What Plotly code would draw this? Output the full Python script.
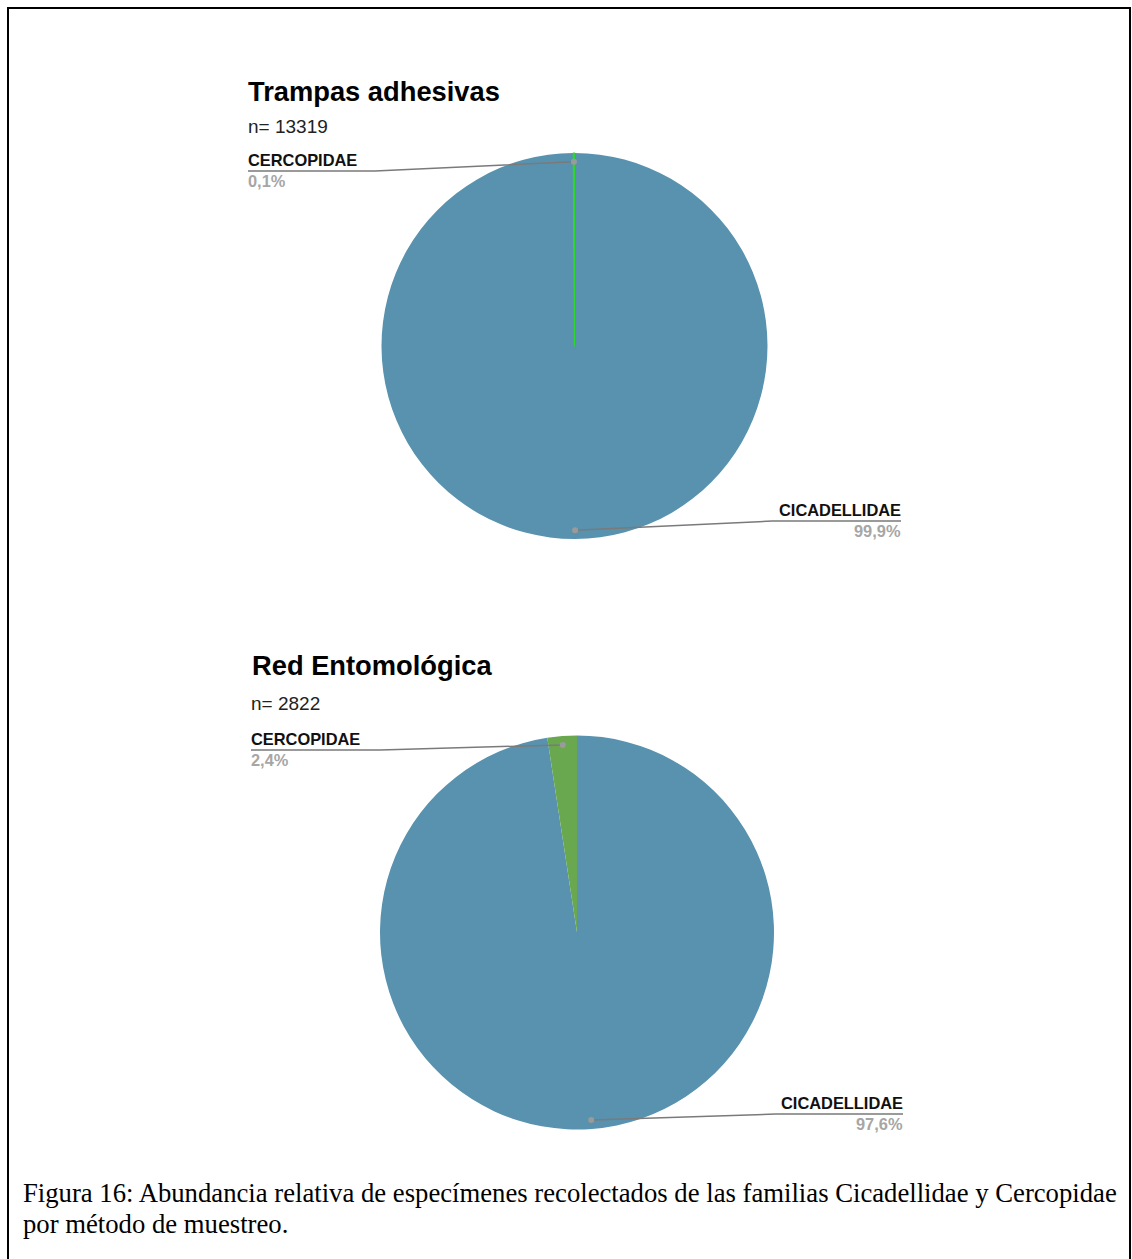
import plotly.graph_objects as go
import math

# ---------------- data ----------------
families = ["CICADELLIDAE", "CERCOPIDAE"]
trampas_values = [13306, 13]      # n = 13319
red_values = [2754, 68]           # n = 2822
chart_titles = ["Trampas adhesivas", "Red Entomológica"]
caption_lines = [
    "Figura 16: Abundancia relativa de especímenes recolectados de las familias Cicadellidae y Cercopidae",
    "por método de muestreo.",
]

# ---------------- styling / layout (pixels) ----------------
W, H = 1132, 1259
BLUE = "#5892ae"
GREENS = ["#2ed62e", "#6aa84f"]
GREEN_EDGE = [1.2, 0]
LABEL_FONT = "Liberation Sans, Arial, sans-serif"

pies = [
    dict(values=trampas_values, title=chart_titles[0], cx=574.5, cy=346, r=193,
         title_xy=(246, 91), n_xy=(246, 126),
         left_xy=(248, 171), left_knee=375, right_xy=(901, 521), right_knee=772,
         green=GREENS[0], edge=GREEN_EDGE[0]),
    dict(values=red_values, title=chart_titles[1], cx=577, cy=932.5, r=197,
         title_xy=(250, 665), n_xy=(249, 703),
         left_xy=(251, 750), left_knee=380, right_xy=(903, 1114), right_knee=776,
         green=GREENS[1], edge=GREEN_EDGE[1]),
]

fig = go.Figure()
shapes = []
annotations = []

def pct(v, tot):
    return f"{100 * v / tot:.1f}".replace(".", ",") + "%"

for p in pies:
    vals = p["values"]
    tot = sum(vals)
    cx, cy, r = p["cx"], p["cy"], p["r"]
    fig.add_trace(go.Pie(
        labels=families, values=vals, sort=False, direction="clockwise", rotation=0,
        marker=dict(colors=[BLUE, p["green"]],
                    line=dict(color=[BLUE, p["green"]], width=[0, p["edge"]])),
        textinfo="none", hoverinfo="label+percent", showlegend=False,
        domain=dict(x=[(cx - r) / W, (cx + r) / W], y=[1 - (cy + r) / H, 1 - (cy - r) / H]),
    ))
    annotations.append(dict(x=p["title_xy"][0], y=p["title_xy"][1], xref="x", yref="y",
                            text=f"<b>{p['title']}</b>", showarrow=False, xanchor="left",
                            yanchor="middle", font=dict(family=LABEL_FONT, size=27.3, color="#000")))
    annotations.append(dict(x=p["n_xy"][0], y=p["n_xy"][1], xref="x", yref="y",
                            text=f"n= {tot}", showarrow=False, xanchor="left",
                            yanchor="middle", font=dict(family=LABEL_FONT, size=19, color="#222")))
    cum = 0
    for i, v in enumerate(vals):
        mid = (cum + v / 2) / tot * 2 * math.pi
        cum += v
        dx = cx + 0.955 * r * math.sin(mid)
        dy = cy - 0.955 * r * math.cos(mid)
        if i == 1:
            lx, ly = p["left_xy"]
            knee = p["left_knee"]
            anchor, tx = "left", lx - 2
        else:
            lx, ly = p["right_xy"]
            knee = p["right_knee"]
            anchor, tx = "right", lx + 2
        shapes.append(dict(type="path", xref="x", yref="y",
                           path=f"M {lx} {ly} L {knee} {ly} L {dx:.2f} {dy:.2f}",
                           line=dict(color="#7a7a7a", width=1.5)))
        shapes.append(dict(type="circle", xref="x", yref="y",
                           x0=dx - 3, x1=dx + 3, y0=dy - 3, y1=dy + 3,
                           fillcolor="#9a9a9a", line=dict(width=0)))
        annotations.append(dict(x=tx, y=ly - 11, xref="x", yref="y",
                                text=f"<b>{families[i]}</b>", showarrow=False,
                                xanchor=anchor, yanchor="middle",
                                font=dict(family=LABEL_FONT, size=16.4, color="#111")))
        annotations.append(dict(x=tx, y=ly + 10, xref="x", yref="y",
                                text=f"<b>{pct(v, tot)}</b>", showarrow=False,
                                xanchor=anchor, yanchor="middle",
                                font=dict(family=LABEL_FONT, size=16.4, color="#a6a6a6")))

for k, line in enumerate(caption_lines):
    annotations.append(dict(x=21, y=1193 + 31 * k, xref="x", yref="y", text=line,
                            showarrow=False, xanchor="left", yanchor="middle",
                            font=dict(family="Liberation Serif, Times New Roman, serif",
                                      size=26.7, color="#000")))

shapes.append(dict(type="rect", xref="x", yref="y", x0=8, x1=1130, y0=8, y1=1300,
                   line=dict(color="#000", width=2), fillcolor="rgba(0,0,0,0)"))

fig.update_layout(
    width=W, height=H, autosize=False,
    margin=dict(l=0, r=0, t=0, b=0),
    paper_bgcolor="white", plot_bgcolor="rgba(0,0,0,0)",
    xaxis=dict(range=[0, W], visible=False, fixedrange=True),
    yaxis=dict(range=[H, 0], visible=False, fixedrange=True),
    shapes=shapes, annotations=annotations,
)

fig.write_html("out.html")
